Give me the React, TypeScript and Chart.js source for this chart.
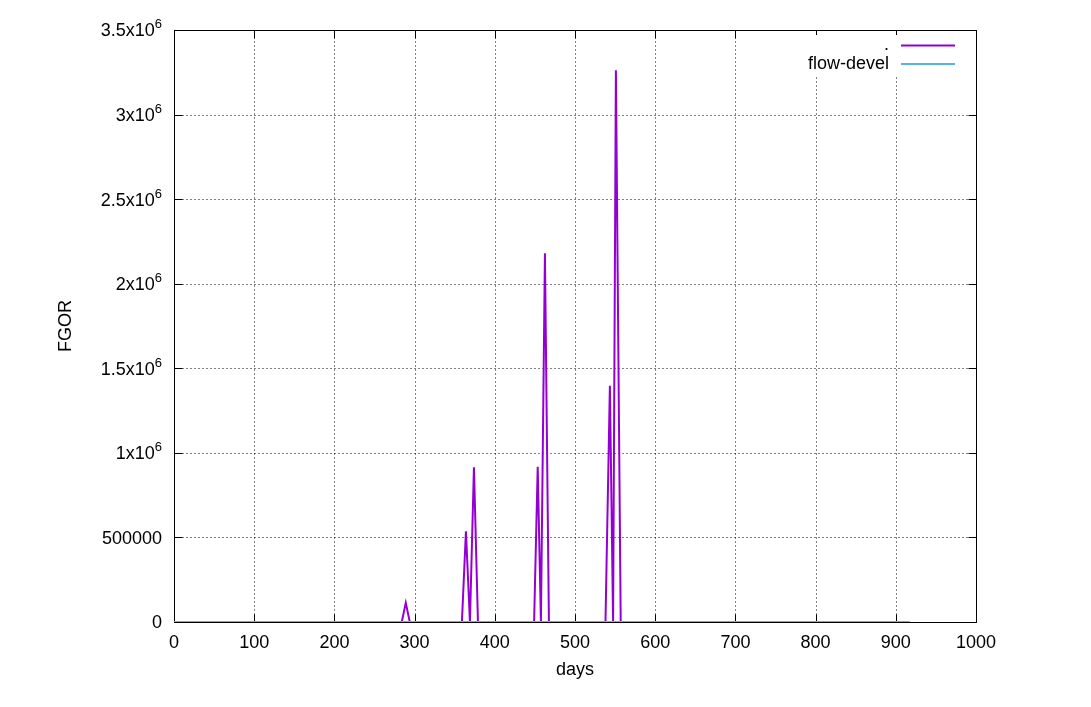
import React, { useEffect, useRef } from "react";
import { Chart, registerables } from "chart.js";

Chart.register(...registerables);

// ---- data ----
const seriesLabels = [".", "flow-devel"];
const seriesColors = ["#9400d3", "#56b4e9"];

const days1 = [0, 284, 289, 294, 359, 364, 369, 374, 379, 449, 453.5, 457.5, 462.5, 467.5, 538, 543.5, 547.5, 551, 557, 917];
const fgor1 = [0, 0, 113000, 0, 0, 537000, 0, 915000, 0, 0, 918000, 0, 2180000, 0, 0, 1396000, 0, 3262000, 0, 0];

const days2 = [0, 917];
const fgor2 = [0, 0];

const xTicks = [0, 100, 200, 300, 400, 500, 600, 700, 800, 900, 1000];
const xTickLabels = ["0", "100", "200", "300", "400", "500", "600", "700", "800", "900", "1000"];
const yTicks = [0, 500000, 1000000, 1500000, 2000000, 2500000, 3000000, 3500000];
const yTickLabels = ["0", "500000", "1x10^6", "1.5x10^6", "2x10^6", "2.5x10^6", "3x10^6", "3.5x10^6"];

const xTitle = "days";
const yTitle = "FGOR";

const FONT = "Liberation Sans";
const FSIZE = 18;
const EXPSIZE = 13;

const gnuplotFrame = {
  id: "gnuplotFrame",
  beforeDatasetsDraw(chart: any) {
    const { ctx, chartArea: a, scales } = chart;
    const xs = scales.x;
    const ys = scales.y;
    const L = Math.round(a.left) + 0.5;
    const R = Math.round(a.right) + 0.5;
    const T = Math.round(a.top) + 0.5;
    const B = Math.round(a.bottom) + 0.5;
    ctx.save();
    // dotted grid
    ctx.strokeStyle = "#000";
    ctx.lineWidth = 1;
    ctx.setLineDash([1, 3]);
    ctx.beginPath();
    for (let i = 1; i < xTicks.length - 1; i++) {
      const px = Math.round(xs.getPixelForValue(xTicks[i])) + 0.5;
      ctx.moveTo(px, B);
      ctx.lineTo(px, T);
    }
    for (let i = 1; i < yTicks.length - 1; i++) {
      const py = Math.round(ys.getPixelForValue(yTicks[i])) + 0.5;
      ctx.moveTo(L, py);
      ctx.lineTo(R, py);
    }
    ctx.stroke();
    ctx.setLineDash([]);
    // inward tick marks on all sides
    const tl = 8;
    ctx.beginPath();
    for (const v of xTicks) {
      const px = Math.round(xs.getPixelForValue(v)) + 0.5;
      ctx.moveTo(px, B);
      ctx.lineTo(px, B - tl);
      ctx.moveTo(px, T);
      ctx.lineTo(px, T + tl);
    }
    for (const v of yTicks) {
      const py = Math.round(ys.getPixelForValue(v)) + 0.5;
      ctx.moveTo(L, py);
      ctx.lineTo(L + tl, py);
      ctx.moveTo(R, py);
      ctx.lineTo(R - tl, py);
    }
    ctx.stroke();
    // border
    ctx.strokeRect(L, T, R - L, B - T);

    // y tick labels with raised exponent (gnuplot enhanced text)
    const right = a.left - 12;
    ctx.fillStyle = "#000";
    ctx.textBaseline = "alphabetic";
    yTicks.forEach((v, i) => {
      const py = ys.getPixelForValue(v);
      const baseY = py + 6.4;
      const [base, exp] = yTickLabels[i].split("^");
      let xr = right;
      if (exp) {
        ctx.font = `${EXPSIZE}px "${FONT}"`;
        const ew = ctx.measureText(exp).width;
        ctx.textAlign = "left";
        ctx.fillText(exp, right - ew, baseY - 8);
        xr = right - ew;
      }
      ctx.font = `${FSIZE}px "${FONT}"`;
      ctx.textAlign = "right";
      ctx.fillText(base, xr, baseY);
    });
    ctx.restore();
  },
  afterDatasetsDraw(chart: any) {
    const { ctx } = chart;
    ctx.save();
    // opaque key box
    ctx.fillStyle = "#fff";
    ctx.fillRect(797, 35, 166, 41);
    ctx.font = `${FSIZE}px "${FONT}"`;
    ctx.textAlign = "right";
    ctx.textBaseline = "middle";
    const rows = [45.5, 64];
    chart.data.datasets.forEach((ds: any, i: number) => {
      const y = rows[i];
      ctx.fillStyle = "#000";
      ctx.fillText(ds.label, 889, y);
      ctx.strokeStyle = ds.borderColor;
      ctx.lineWidth = 2;
      ctx.beginPath();
      ctx.moveTo(901, y);
      ctx.lineTo(955, y);
      ctx.stroke();
    });
    ctx.restore();
  },
};

export default function App() {
  const ref = useRef<HTMLCanvasElement | null>(null);

  useEffect(() => {
    if (!ref.current) return;
    Chart.defaults.font.family = FONT;
    Chart.defaults.font.size = FSIZE;
    Chart.defaults.color = "#000";

    const chart = new Chart(ref.current, {
      type: "line",
      data: {
        datasets: [
          {
            label: seriesLabels[0],
            data: days1.map((d, i) => ({ x: d, y: fgor1[i] })),
            borderColor: seriesColors[0],
            borderWidth: 2,
            pointRadius: 0,
            tension: 0,
            fill: false,
            order: 1,
          },
          {
            label: seriesLabels[1],
            data: days2.map((d, i) => ({ x: d, y: fgor2[i] })),
            borderColor: seriesColors[1],
            borderWidth: 2,
            pointRadius: 0,
            tension: 0,
            fill: false,
            order: 0,
          },
        ],
      },
      options: {
        responsive: false,
        animation: false,
        devicePixelRatio: 1,
        events: [],
        layout: { padding: { top: 30, right: 115, left: 0, bottom: 0 } },
        plugins: { legend: { display: false }, tooltip: { enabled: false } },
        scales: {
          x: {
            type: "linear",
            min: 0,
            max: 1000,
            afterFit: (s: any) => {
              s.height = 85;
            },
            afterBuildTicks: (s: any) => {
              s.ticks = xTicks.map((v) => ({ value: v }));
            },
            ticks: {
              padding: 10,
              maxRotation: 0,
              autoSkip: false,
              callback: (v: any) => {
                const i = xTicks.indexOf(Number(v));
                return i >= 0 ? xTickLabels[i] : "";
              },
            },
            grid: { display: false, drawTicks: false },
            border: { display: false },
            title: { display: true, text: xTitle, padding: { top: 0, bottom: 26 } },
          },
          y: {
            type: "linear",
            min: 0,
            max: 3500000,
            afterFit: (s: any) => {
              s.width = 174;
            },
            afterBuildTicks: (s: any) => {
              s.ticks = yTicks.map((v) => ({ value: v }));
            },
            ticks: { display: false },
            grid: { display: false, drawTicks: false },
            border: { display: false },
            title: { display: true, text: yTitle, padding: { top: 55, bottom: 0 } },
          },
        },
      },
      plugins: [gnuplotFrame],
    } as any);

    return () => chart.destroy();
  }, []);

  return (
    <div style={{ position: "fixed", left: 0, top: 0, width: 1091, height: 707, background: "#fff" }}>
      <canvas ref={ref} width={1091} height={707} style={{ display: "block" }} />
    </div>
  );
}
